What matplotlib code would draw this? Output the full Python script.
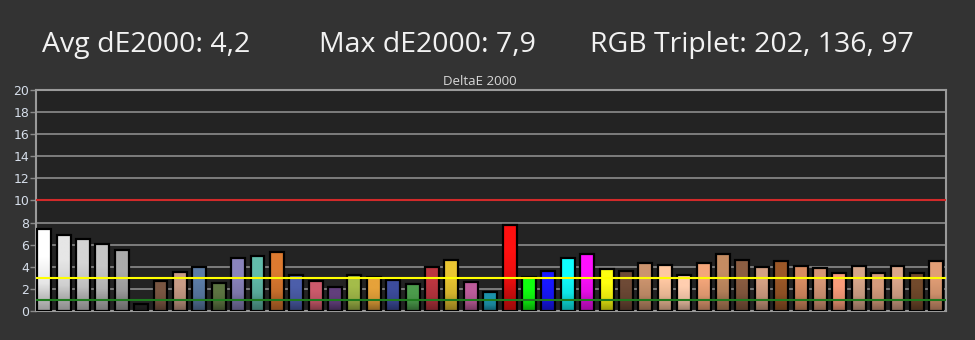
import numpy as np
import matplotlib
matplotlib.use("Agg")
import matplotlib.pyplot as plt
from matplotlib.colors import LinearSegmentedColormap, to_rgb

# ---------------- data ----------------
deltaE = [7.4, 6.9, 6.55, 6.1, 5.5, 0.6, 2.7, 3.5, 3.95, 2.55,
          4.8, 5.0, 5.3, 3.3, 2.75, 2.2, 3.3, 3.05, 2.85, 2.4,
          3.95, 4.65, 2.6, 1.7, 7.8, 3.05, 3.6, 4.8, 5.2, 3.8,
          3.6, 4.3, 4.2, 3.3, 4.3, 5.2, 4.65, 3.95, 4.5, 4.1,
          3.85, 3.4, 4.1, 3.4, 4.1, 3.4, 4.55]

barColors = ["#ffffff", "#e6e6e6", "#d4d4d4", "#c6c6c6", "#aaaaaa",
             "#1e1e1e", "#7a5642", "#c89c86", "#5b7ca6", "#5c7442",
             "#8a84bc", "#62bcaa", "#dc7a30", "#4c5eaa", "#cc5a6c",
             "#623f7c", "#a4bc4a", "#e6a23a", "#3c4c9c", "#4c9c4c",
             "#bc3640", "#eac632", "#bc5c9a", "#1c92aa", "#ff1010",
             "#10ff10", "#1818ff", "#10ffff", "#ff10ff", "#ffff10",
             "#6e4a36", "#cc946e", "#ffc8a2", "#ffceb0", "#f4a67a",
             "#c48c62", "#8c5e42", "#d4a084", "#9c5828", "#d88c62",
             "#d69676", "#fa9c7a", "#d6a68a", "#d69c7c", "#daa68a",
             "#724a2c", "#e29e76"]

avgText = "Avg dE2000: 4,2"
maxText = "Max dE2000: 7,9"
rgbText = "RGB Triplet: 202, 136, 97"
yTicks = list(range(0, 21, 2))
refLines = [(10, "#d22a2a"), (3, "#ffff00"), (1, "#1e7a1e")]

# ---------------- figure ----------------
fig = plt.figure(figsize=(9.75, 3.4), dpi=100, facecolor="#333333")
ax = fig.add_axes([36 / 975, 1 - 311 / 340, 910 / 975, 221 / 340])
ax.set_facecolor("#232323")

xs = np.arange(len(deltaE))
width = 0.72

# gradient fill for each bar (bright top -> darker bottom)
grad = np.linspace(0, 1, 64).reshape(-1, 1)
for x, h, c in zip(xs, deltaE, barColors):
    rgb = np.array(to_rgb(c))
    cmap = LinearSegmentedColormap.from_list("b", [rgb * 0.6, rgb * 0.9, rgb, rgb])
    ax.imshow(grad, cmap=cmap, origin="lower", aspect="auto",
              extent=(x - width / 2, x + width / 2, 0, h), zorder=2,
              interpolation="bilinear")
ax.bar(xs, deltaE, width=width, facecolor="none", edgecolor="black",
       linewidth=1.6, zorder=3)
ax.set_xlim(-0.42, len(deltaE) - 0.5)
ax.set_ylim(0, 20)

for yv in yTicks[1:]:
    ax.axhline(yv, color="#8c8c8c", linewidth=1.2, zorder=1)
for yv, col in refLines:
    ax.axhline(yv, color=col, linewidth=1.5, zorder=4)

ax.set_xticks([])
ax.set_yticks(yTicks)
ax.tick_params(axis="y", colors="#8a8a8a", labelcolor="#d6deea",
               labelsize=9, length=4, width=1, pad=1)
for side in ["left", "right", "top", "bottom"]:
    ax.spines[side].set_color("#9a9a9a")
    ax.spines[side].set_linewidth(1.5)

fig.text(480 / 975, 1 - 85 / 340, "DeltaE 2000", color="#d8d8d8",
         fontsize=9.5, family="Open Sans", ha="center", va="baseline")

hdr = dict(color="#f2f2f2", fontsize=20.5, family="Open Sans", va="baseline")
fig.text(42 / 975, 1 - 52 / 340, avgText, **hdr)
fig.text(319 / 975, 1 - 52 / 340, maxText, **hdr)
fig.text(590 / 975, 1 - 52 / 340, rgbText, **hdr)

fig.savefig("out.png", dpi=100, facecolor=fig.get_facecolor())
